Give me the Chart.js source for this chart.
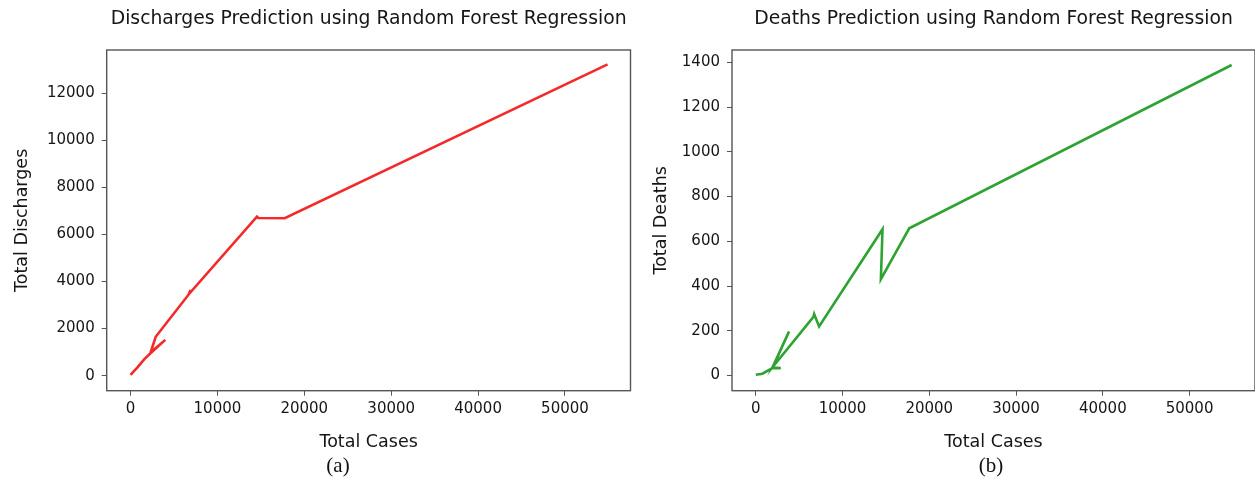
<!DOCTYPE html>
<html>
<head>
<meta charset="utf-8">
<script src="https://cdn.jsdelivr.net/npm/chart.js@4/dist/chart.umd.min.js"></script>
<style>
  body { margin: 0; background: #fff; width: 1255px; height: 489px; overflow: hidden; position: relative; }
  .box { position: absolute; top: 0; }
  .cap { position: absolute; top: 453px; font-family: "Liberation Serif", serif; font-size: 21px; color: #111; transform: translateX(-50%); }
</style>
</head>
<body>
<div class="box" style="left:0px"><canvas id="dischargeChart" width="640" height="489"></canvas></div>
<div class="box" style="left:640px"><canvas id="deathChart" width="615" height="489"></canvas></div>
<div class="cap" style="left:338px">(a)</div>
<div class="cap" style="left:991px">(b)</div>
<script>
// total cases vs predicted discharges (path order as plotted)
const dischargeCases = [0, 800, 1600, 2300, 4000, 2300, 2900, 6700, 6900, 6800, 14550, 14700, 17750, 54900];
const dischargeValues = [30, 350, 700, 950, 1520, 980, 1650, 3450, 3640, 3500, 6760, 6700, 6690, 13230];

// total cases vs predicted deaths
const deathCases = [0, 760, 1920, 2880, 1950, 3840, 1950, 6650, 6730, 7300, 14610, 14420, 17690, 54850];
const deathValues = [3, 8, 33, 33, 36, 197, 38, 262, 275, 219, 654, 431, 658, 1388];

const caseTicks = [0, 10000, 20000, 30000, 40000, 50000];
const dischargeTicks = [0, 2000, 4000, 6000, 8000, 10000, 12000];
const deathTicks = [0, 200, 400, 600, 800, 1000, 1200, 1400];

const FONT = "'DejaVu Sans', sans-serif";
const INK = '#161616';
const FRAME = '#555';

// draws the top title and the full box round the plot area
const framePlugin = {
    id: 'frame',
    afterDraw: (chart, args, opts) => {
        const ctx = chart.ctx;
        const a = chart.chartArea;
        ctx.save();
        ctx.strokeStyle = FRAME;
        ctx.lineWidth = 1.4;
        ctx.strokeRect(a.left, a.top, a.right - a.left, a.bottom - a.top);
        ctx.fillStyle = INK;
        ctx.font = '18.8px ' + FONT;
        ctx.textAlign = 'center';
        ctx.textBaseline = 'middle';
        ctx.fillText(opts.text, (a.left + a.right) / 2, 19);
        ctx.restore();
    }
};

const toPoints = (xs, ys) => xs.map((x, i) => ({x: x, y: ys[i]}));

const makeChart = (id, cfg) => {
    return new Chart(document.getElementById(id), {
        type: 'line',
        data: {
            datasets: [{
                data: toPoints(cfg.xs, cfg.ys),
                borderColor: cfg.color,
                borderWidth: 2.6,
                pointRadius: 0,
                tension: 0,
                fill: false
            }]
        },
        options: {
            responsive: false,
            animation: false,
            layout: {padding: {top: 50, left: 0, right: cfg.padRight, bottom: 36.3}},
            plugins: {
                legend: {display: false},
                tooltip: {enabled: false},
                frame: {text: cfg.title}
            },
            scales: {
                x: {
                    type: 'linear',
                    min: -2740,
                    max: 57540,
                    afterBuildTicks: s => { s.ticks = caseTicks.map(v => ({value: v})); },
                    afterFit: s => { s.height = 62; },
                    grid: {drawOnChartArea: false, drawTicks: true, tickLength: 5, color: FRAME},
                    border: {display: false},
                    ticks: {color: INK, font: {family: FONT, size: 15}, padding: 4, maxRotation: 0, callback: v => String(v)},
                    title: {display: true, text: 'Total Cases', color: INK, font: {family: FONT, size: 17.5}, padding: {top: 4, bottom: 0}}
                },
                y: {
                    min: cfg.yMin,
                    max: cfg.yMax,
                    afterBuildTicks: s => { s.ticks = cfg.yTicks.map(v => ({value: v})); },
                    afterFit: s => { s.width = cfg.yWidth; },
                    grid: {drawOnChartArea: false, drawTicks: true, tickLength: 5, color: FRAME},
                    border: {display: false},
                    ticks: {color: INK, font: {family: FONT, size: 15}, padding: 7, callback: v => String(v)},
                    title: {display: true, text: cfg.yTitle, color: INK, font: {family: FONT, size: 17.5}, padding: {top: cfg.yTitlePad, bottom: 0}}
                }
            }
        },
        plugins: [framePlugin]
    });
};

makeChart('dischargeChart', {
    title: 'Discharges Prediction using Random Forest Regression',
    xs: dischargeCases, ys: dischargeValues,
    color: '#f42a2a',
    yMin: -640, yMax: 13840,
    yTicks: dischargeTicks,
    yTitle: 'Total Discharges',
    yWidth: 106.7, yTitlePad: 12,
    padRight: 9.5
});

makeChart('deathChart', {
    title: 'Deaths Prediction using Random Forest Regression',
    xs: deathCases, ys: deathValues,
    color: '#2ea334',
    yMin: -68, yMax: 1455,
    yTicks: deathTicks,
    yTitle: 'Total Deaths',
    yWidth: 92, yTitlePad: 11,
    padRight: 0
});
</script>
</body>
</html>
